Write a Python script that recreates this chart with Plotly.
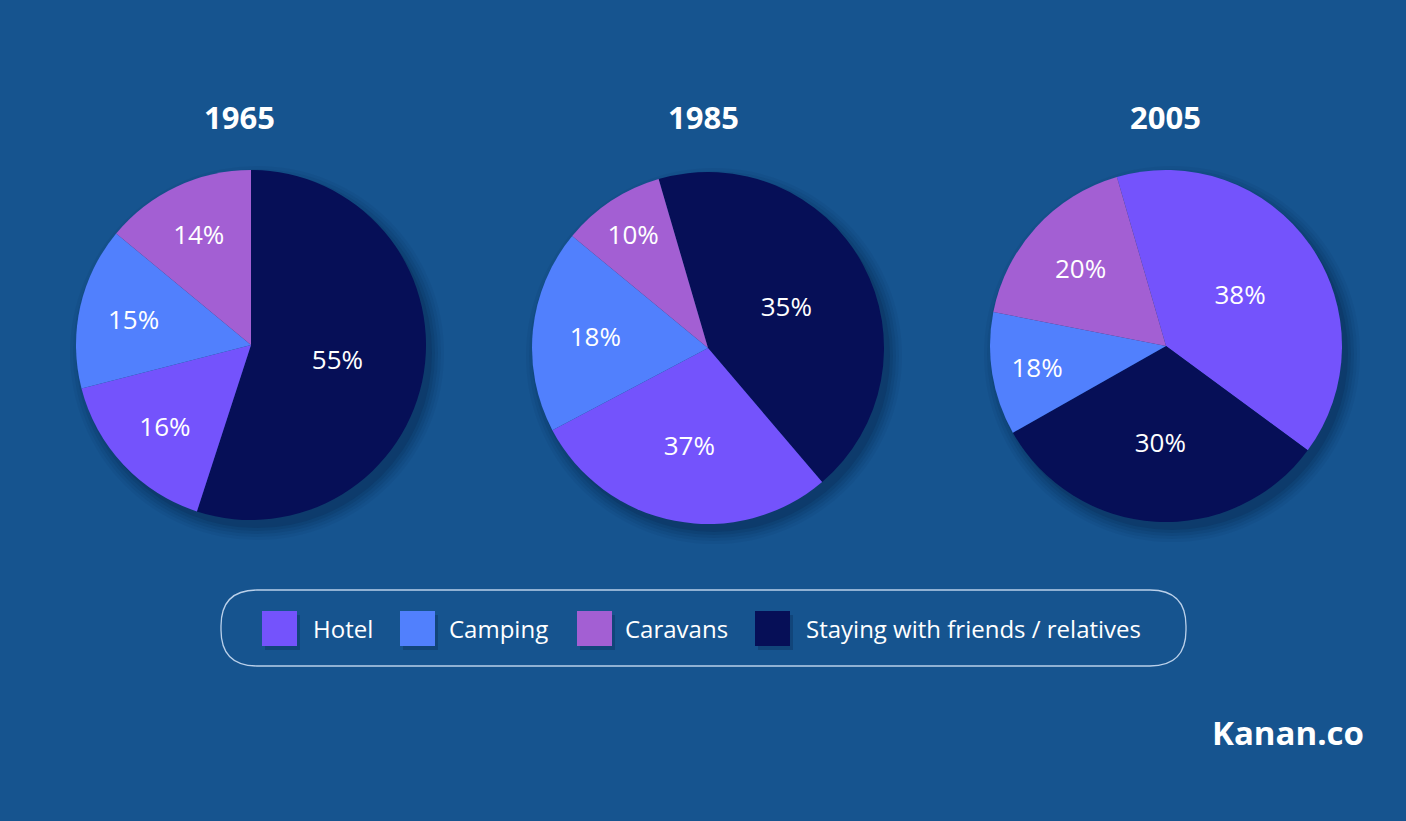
import plotly.graph_objects as go

W, H = 1406, 821

# ---------------- data ----------------
categories = ["Hotel", "Camping", "Caravans", "Staying with friends / relatives"]
colors = {"Hotel": "#7453fc", "Camping": "#5180fd", "Caravans": "#a35fd3",
          "Staying with friends / relatives": "#060f57"}

years = ["1965", "1985", "2005"]

# slice order as drawn (clockwise from the first slice)
order_1965 = ["Staying with friends / relatives", "Hotel", "Camping", "Caravans"]
share_1965 = [55, 16, 15, 14]          # slice sizes as drawn
label_1965 = ["55%", "16%", "15%", "14%"]  # printed labels

order_1985 = ["Staying with friends / relatives", "Hotel", "Camping", "Caravans"]
share_1985 = [43.3, 28.5, 18.7, 9.5]
label_1985 = ["35%", "37%", "18%", "10%"]

order_2005 = ["Hotel", "Staying with friends / relatives", "Camping", "Caravans"]
share_2005 = [39.6, 31.7, 11.3, 17.4]
label_2005 = ["38%", "30%", "18%", "20%"]

# ---------------- layout helpers ----------------
def px(x):
    return x / W

def py(y):
    return 1 - y / H

BG = "#16548f"
FONT = "Open Sans"

pies = [
    # (order, share, label, cx, cy, r, rotation)
    (order_1965, share_1965, label_1965, 251, 345, 175, 0),
    (order_1985, share_1985, label_1985, 708, 348, 176, -16.3),
    (order_2005, share_2005, label_2005, 1166, 346, 176, -16.2),
]
title_x = [240, 703, 1165]

fig = go.Figure()
shapes = []
annotations = []

for (order, share, label, cx, cy, r, rot), yr, tx in zip(pies, years, title_x):
    fig.add_trace(go.Pie(
        labels=order, values=share, text=label,
        textinfo="text", textposition="inside",
        insidetextorientation="horizontal",
        textfont=dict(size=26, color="white", family=FONT),
        marker=dict(colors=[colors[c] for c in order], line=dict(width=0)),
        sort=False, direction="clockwise", rotation=rot,
        domain=dict(x=[px(cx - r), px(cx + r)], y=[py(cy + r), py(cy - r)]),
        showlegend=False, name=yr,
        hovertemplate="%{label}: %{text}<extra>" + yr + "</extra>",
    ))
    # soft drop shadow behind the pie
    for grow, op in [(12, 0.05), (9, 0.07), (6, 0.09), (3, 0.11), (0, 0.14)]:
        ox, oy = 6, 8
        shapes.append(dict(
            type="circle", xref="paper", yref="paper", layer="below",
            x0=px(cx - r - grow + ox), x1=px(cx + r + grow + ox),
            y0=py(cy + r + grow + oy), y1=py(cy - r - grow + oy),
            fillcolor="#04183a", opacity=op, line=dict(width=0)))
    annotations.append(dict(
        x=px(tx), y=py(117), xref="paper", yref="paper", text="<b>" + yr + "</b>",
        showarrow=False, xanchor="center", yanchor="middle",
        font=dict(size=31, color="white", family=FONT)))

# ---------------- legend box ----------------
lx0, lx1, ly0, ly1, rad = 221, 1186, 590, 666, 36
path = (f"M {px(lx0 + rad)},{py(ly0)} L {px(lx1 - rad)},{py(ly0)} "
        f"Q {px(lx1)},{py(ly0)} {px(lx1)},{py(ly0 + rad)} "
        f"L {px(lx1)},{py(ly1 - rad)} "
        f"Q {px(lx1)},{py(ly1)} {px(lx1 - rad)},{py(ly1)} "
        f"L {px(lx0 + rad)},{py(ly1)} "
        f"Q {px(lx0)},{py(ly1)} {px(lx0)},{py(ly1 - rad)} "
        f"L {px(lx0)},{py(ly0 + rad)} "
        f"Q {px(lx0)},{py(ly0)} {px(lx0 + rad)},{py(ly0)} Z")
shapes.append(dict(type="path", path=path, xref="paper", yref="paper",
                   line=dict(color="rgba(215,230,250,0.85)", width=1.3),
                   fillcolor="rgba(0,0,0,0)", layer="below"))

swatch_x = [262, 400, 577, 755]
text_x = [311, 447, 623, 804]
sw = 35
sy = 611
for c, sx, tx in zip(categories, swatch_x, text_x):
    shapes.append(dict(type="rect", xref="paper", yref="paper", layer="below",
                       x0=px(sx + 3), x1=px(sx + sw + 3), y0=py(sy + sw + 4), y1=py(sy + 4),
                       fillcolor="#04183a", opacity=0.25, line=dict(width=0)))
    shapes.append(dict(type="rect", xref="paper", yref="paper", layer="above",
                       x0=px(sx), x1=px(sx + sw), y0=py(sy + sw), y1=py(sy),
                       fillcolor=colors[c], line=dict(width=0)))
    annotations.append(dict(x=px(tx), y=py(628), xref="paper", yref="paper",
                            text=c, showarrow=False, xanchor="left", yanchor="middle",
                            font=dict(size=24, color="white", family=FONT)))

# ---------------- brand ----------------
annotations.append(dict(x=px(1366), y=py(732), xref="paper", yref="paper",
                        text="<b>Kanan.co</b>", showarrow=False,
                        xanchor="right", yanchor="middle",
                        font=dict(size=33, color="white", family=FONT)))

fig.update_layout(
    width=W, height=H, margin=dict(l=0, r=0, t=0, b=0),
    paper_bgcolor=BG, plot_bgcolor=BG,
    shapes=shapes, annotations=annotations, showlegend=False,
    font=dict(family=FONT, color="white"),
)

fig.write_html("out.html")
